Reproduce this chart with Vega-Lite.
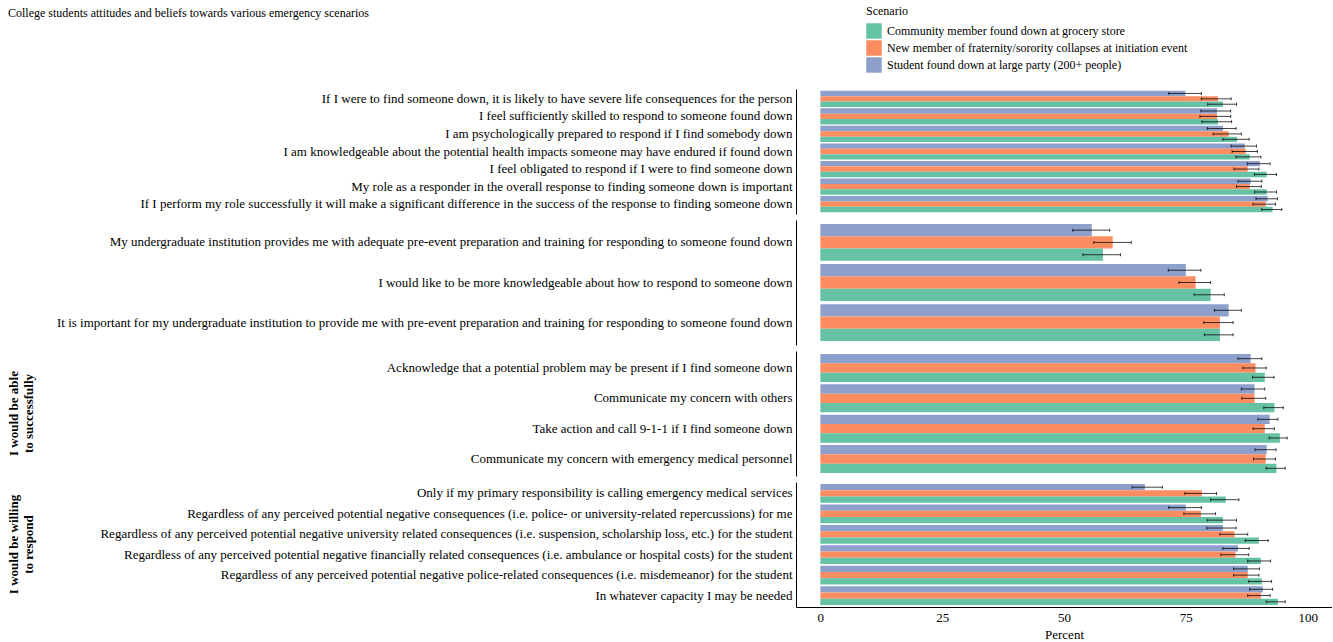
{
  "$schema": "https://vega.github.io/schema/vega-lite/v6.json",
  "padding": {"left": 8, "top": 6, "right": 0, "bottom": 5},
  "background": "white",
  "title": {"text": "College students attitudes and beliefs towards various emergency scenarios", "anchor": "start", "frame": "bounds", "font": "Liberation Serif", "fontSize": 12, "fontWeight": "normal", "color": "black", "offset": -14},
  "data": {"values": [
    {"Group": "1", "Item": "If I were to find someone down, it is likely to have severe life consequences for the person", "Scenario": "Student found down at large party (200+ people)", "Percent": 74.9, "Lo": 71.5, "Hi": 78.2},
    {"Group": "1", "Item": "If I were to find someone down, it is likely to have severe life consequences for the person", "Scenario": "New member of fraternity/sorority collapses at initiation event", "Percent": 81.6, "Lo": 78.2, "Hi": 84.3},
    {"Group": "1", "Item": "If I were to find someone down, it is likely to have severe life consequences for the person", "Scenario": "Community member found down at grocery store", "Percent": 82.6, "Lo": 79.5, "Hi": 85.4},
    {"Group": "1", "Item": "I feel sufficiently skilled to respond to someone found down", "Scenario": "Student found down at large party (200+ people)", "Percent": 81.4, "Lo": 78.1, "Hi": 84.2},
    {"Group": "1", "Item": "I feel sufficiently skilled to respond to someone found down", "Scenario": "New member of fraternity/sorority collapses at initiation event", "Percent": 81.4, "Lo": 77.9, "Hi": 84.2},
    {"Group": "1", "Item": "I feel sufficiently skilled to respond to someone found down", "Scenario": "Community member found down at grocery store", "Percent": 81.6, "Lo": 78.3, "Hi": 84.4},
    {"Group": "1", "Item": "I am psychologically prepared to respond if I find somebody down", "Scenario": "Student found down at large party (200+ people)", "Percent": 82.6, "Lo": 79.4, "Hi": 85.3},
    {"Group": "1", "Item": "I am psychologically prepared to respond if I find somebody down", "Scenario": "New member of fraternity/sorority collapses at initiation event", "Percent": 83.8, "Lo": 80.6, "Hi": 86.4},
    {"Group": "1", "Item": "I am psychologically prepared to respond if I find somebody down", "Scenario": "Community member found down at grocery store", "Percent": 85.5, "Lo": 82.6, "Hi": 88.0},
    {"Group": "1", "Item": "I am knowledgeable about the potential health impacts someone may have endured if found down", "Scenario": "Student found down at large party (200+ people)", "Percent": 87.1, "Lo": 84.3, "Hi": 89.5},
    {"Group": "1", "Item": "I am knowledgeable about the potential health impacts someone may have endured if found down", "Scenario": "New member of fraternity/sorority collapses at initiation event", "Percent": 87.3, "Lo": 84.5, "Hi": 89.7},
    {"Group": "1", "Item": "I am knowledgeable about the potential health impacts someone may have endured if found down", "Scenario": "Community member found down at grocery store", "Percent": 88.1, "Lo": 85.3, "Hi": 90.4},
    {"Group": "1", "Item": "I feel obligated to respond if I were to find someone down", "Scenario": "Student found down at large party (200+ people)", "Percent": 90.2, "Lo": 87.6, "Hi": 92.3},
    {"Group": "1", "Item": "I feel obligated to respond if I were to find someone down", "Scenario": "New member of fraternity/sorority collapses at initiation event", "Percent": 87.7, "Lo": 84.9, "Hi": 90.0},
    {"Group": "1", "Item": "I feel obligated to respond if I were to find someone down", "Scenario": "Community member found down at grocery store", "Percent": 91.6, "Lo": 89.1, "Hi": 93.6},
    {"Group": "1", "Item": "My role as a responder in the overall response to finding someone down is important", "Scenario": "Student found down at large party (200+ people)", "Percent": 88.3, "Lo": 85.7, "Hi": 90.6},
    {"Group": "1", "Item": "My role as a responder in the overall response to finding someone down is important", "Scenario": "New member of fraternity/sorority collapses at initiation event", "Percent": 88.1, "Lo": 85.4, "Hi": 90.5},
    {"Group": "1", "Item": "My role as a responder in the overall response to finding someone down is important", "Scenario": "Community member found down at grocery store", "Percent": 91.6, "Lo": 89.1, "Hi": 93.6},
    {"Group": "1", "Item": "If I perform my role successfully it will make a significant difference in the success of the response to finding someone down", "Scenario": "Student found down at large party (200+ people)", "Percent": 91.8, "Lo": 89.4, "Hi": 93.8},
    {"Group": "1", "Item": "If I perform my role successfully it will make a significant difference in the success of the response to finding someone down", "Scenario": "New member of fraternity/sorority collapses at initiation event", "Percent": 91.4, "Lo": 88.8, "Hi": 93.4},
    {"Group": "1", "Item": "If I perform my role successfully it will make a significant difference in the success of the response to finding someone down", "Scenario": "Community member found down at grocery store", "Percent": 92.8, "Lo": 90.6, "Hi": 94.7},
    {"Group": "2", "Item": "My undergraduate institution provides me with adequate pre-event preparation and training for responding to someone found down", "Scenario": "Student found down at large party (200+ people)", "Percent": 55.7, "Lo": 51.8, "Hi": 59.4},
    {"Group": "2", "Item": "My undergraduate institution provides me with adequate pre-event preparation and training for responding to someone found down", "Scenario": "New member of fraternity/sorority collapses at initiation event", "Percent": 60.0, "Lo": 56.1, "Hi": 63.8},
    {"Group": "2", "Item": "My undergraduate institution provides me with adequate pre-event preparation and training for responding to someone found down", "Scenario": "Community member found down at grocery store", "Percent": 58.0, "Lo": 53.9, "Hi": 61.6},
    {"Group": "2", "Item": "I would like to be more knowledgeable about how to respond to someone down", "Scenario": "Student found down at large party (200+ people)", "Percent": 75.0, "Lo": 71.4, "Hi": 78.1},
    {"Group": "2", "Item": "I would like to be more knowledgeable about how to respond to someone down", "Scenario": "New member of fraternity/sorority collapses at initiation event", "Percent": 77.0, "Lo": 73.6, "Hi": 80.1},
    {"Group": "2", "Item": "I would like to be more knowledgeable about how to respond to someone down", "Scenario": "Community member found down at grocery store", "Percent": 80.1, "Lo": 76.7, "Hi": 82.9},
    {"Group": "2", "Item": "It is important for my undergraduate institution to provide me with pre-event preparation and training for responding to someone found down", "Scenario": "Student found down at large party (200+ people)", "Percent": 83.8, "Lo": 80.9, "Hi": 86.4},
    {"Group": "2", "Item": "It is important for my undergraduate institution to provide me with pre-event preparation and training for responding to someone found down", "Scenario": "New member of fraternity/sorority collapses at initiation event", "Percent": 82.0, "Lo": 78.7, "Hi": 84.7},
    {"Group": "2", "Item": "It is important for my undergraduate institution to provide me with pre-event preparation and training for responding to someone found down", "Scenario": "Community member found down at grocery store", "Percent": 82.0, "Lo": 78.8, "Hi": 84.7},
    {"Group": "I would be able to successfully", "Item": "Acknowledge that a potential problem may be present if I find someone down", "Scenario": "Student found down at large party (200+ people)", "Percent": 88.3, "Lo": 85.7, "Hi": 90.6},
    {"Group": "I would be able to successfully", "Item": "Acknowledge that a potential problem may be present if I find someone down", "Scenario": "New member of fraternity/sorority collapses at initiation event", "Percent": 89.3, "Lo": 86.7, "Hi": 91.5},
    {"Group": "I would be able to successfully", "Item": "Acknowledge that a potential problem may be present if I find someone down", "Scenario": "Community member found down at grocery store", "Percent": 91.2, "Lo": 88.7, "Hi": 93.1},
    {"Group": "I would be able to successfully", "Item": "Communicate my concern with others", "Scenario": "Student found down at large party (200+ people)", "Percent": 89.1, "Lo": 86.4, "Hi": 91.2},
    {"Group": "I would be able to successfully", "Item": "Communicate my concern with others", "Scenario": "New member of fraternity/sorority collapses at initiation event", "Percent": 89.1, "Lo": 86.5, "Hi": 91.4},
    {"Group": "I would be able to successfully", "Item": "Communicate my concern with others", "Scenario": "Community member found down at grocery store", "Percent": 93.2, "Lo": 91.0, "Hi": 95.0},
    {"Group": "I would be able to successfully", "Item": "Take action and call 9-1-1 if I find someone down", "Scenario": "Student found down at large party (200+ people)", "Percent": 92.2, "Lo": 89.8, "Hi": 93.9},
    {"Group": "I would be able to successfully", "Item": "Take action and call 9-1-1 if I find someone down", "Scenario": "New member of fraternity/sorority collapses at initiation event", "Percent": 91.2, "Lo": 88.8, "Hi": 93.2},
    {"Group": "I would be able to successfully", "Item": "Take action and call 9-1-1 if I find someone down", "Scenario": "Community member found down at grocery store", "Percent": 94.3, "Lo": 92.1, "Hi": 95.8},
    {"Group": "I would be able to successfully", "Item": "Communicate my concern with emergency medical personnel", "Scenario": "Student found down at large party (200+ people)", "Percent": 91.6, "Lo": 89.2, "Hi": 93.5},
    {"Group": "I would be able to successfully", "Item": "Communicate my concern with emergency medical personnel", "Scenario": "New member of fraternity/sorority collapses at initiation event", "Percent": 91.4, "Lo": 88.9, "Hi": 93.4},
    {"Group": "I would be able to successfully", "Item": "Communicate my concern with emergency medical personnel", "Scenario": "Community member found down at grocery store", "Percent": 93.6, "Lo": 91.5, "Hi": 95.4},
    {"Group": "I would be willing to respond", "Item": "Only if my primary responsibility is calling emergency medical services", "Scenario": "Student found down at large party (200+ people)", "Percent": 66.6, "Lo": 64.0, "Hi": 70.2},
    {"Group": "I would be willing to respond", "Item": "Only if my primary responsibility is calling emergency medical services", "Scenario": "New member of fraternity/sorority collapses at initiation event", "Percent": 78.3, "Lo": 74.8, "Hi": 81.3},
    {"Group": "I would be willing to respond", "Item": "Only if my primary responsibility is calling emergency medical services", "Scenario": "Community member found down at grocery store", "Percent": 83.2, "Lo": 80.1, "Hi": 85.9},
    {"Group": "I would be willing to respond", "Item": "Regardless of any perceived potential negative consequences (i.e. police- or university-related repercussions) for me", "Scenario": "Student found down at large party (200+ people)", "Percent": 75.0, "Lo": 71.5, "Hi": 78.2},
    {"Group": "I would be willing to respond", "Item": "Regardless of any perceived potential negative consequences (i.e. police- or university-related repercussions) for me", "Scenario": "New member of fraternity/sorority collapses at initiation event", "Percent": 78.1, "Lo": 74.6, "Hi": 81.1},
    {"Group": "I would be willing to respond", "Item": "Regardless of any perceived potential negative consequences (i.e. police- or university-related repercussions) for me", "Scenario": "Community member found down at grocery store", "Percent": 82.6, "Lo": 79.4, "Hi": 85.4},
    {"Group": "I would be willing to respond", "Item": "Regardless of any perceived potential negative university related consequences (i.e. suspension, scholarship loss, etc.) for the student", "Scenario": "Student found down at large party (200+ people)", "Percent": 82.6, "Lo": 79.3, "Hi": 85.3},
    {"Group": "I would be willing to respond", "Item": "Regardless of any perceived potential negative university related consequences (i.e. suspension, scholarship loss, etc.) for the student", "Scenario": "New member of fraternity/sorority collapses at initiation event", "Percent": 85.0, "Lo": 82.0, "Hi": 87.7},
    {"Group": "I would be willing to respond", "Item": "Regardless of any perceived potential negative university related consequences (i.e. suspension, scholarship loss, etc.) for the student", "Scenario": "Community member found down at grocery store", "Percent": 90.0, "Lo": 87.2, "Hi": 91.9},
    {"Group": "I would be willing to respond", "Item": "Regardless of any perceived potential negative financially related consequences (i.e. ambulance or hospital costs) for the student", "Scenario": "Student found down at large party (200+ people)", "Percent": 85.7, "Lo": 82.6, "Hi": 88.0},
    {"Group": "I would be willing to respond", "Item": "Regardless of any perceived potential negative financially related consequences (i.e. ambulance or hospital costs) for the student", "Scenario": "New member of fraternity/sorority collapses at initiation event", "Percent": 85.2, "Lo": 82.2, "Hi": 87.9},
    {"Group": "I would be willing to respond", "Item": "Regardless of any perceived potential negative financially related consequences (i.e. ambulance or hospital costs) for the student", "Scenario": "Community member found down at grocery store", "Percent": 90.4, "Lo": 87.7, "Hi": 92.4},
    {"Group": "I would be willing to respond", "Item": "Regardless of any perceived potential negative police-related consequences (i.e. misdemeanor) for the student", "Scenario": "Student found down at large party (200+ people)", "Percent": 87.7, "Lo": 84.8, "Hi": 90.1},
    {"Group": "I would be willing to respond", "Item": "Regardless of any perceived potential negative police-related consequences (i.e. misdemeanor) for the student", "Scenario": "New member of fraternity/sorority collapses at initiation event", "Percent": 87.7, "Lo": 84.8, "Hi": 90.0},
    {"Group": "I would be willing to respond", "Item": "Regardless of any perceived potential negative police-related consequences (i.e. misdemeanor) for the student", "Scenario": "Community member found down at grocery store", "Percent": 90.6, "Lo": 87.9, "Hi": 92.6},
    {"Group": "I would be willing to respond", "Item": "In whatever capacity I may be needed", "Scenario": "Student found down at large party (200+ people)", "Percent": 90.8, "Lo": 88.1, "Hi": 92.8},
    {"Group": "I would be willing to respond", "Item": "In whatever capacity I may be needed", "Scenario": "New member of fraternity/sorority collapses at initiation event", "Percent": 90.4, "Lo": 87.7, "Hi": 92.3},
    {"Group": "I would be willing to respond", "Item": "In whatever capacity I may be needed", "Scenario": "Community member found down at grocery store", "Percent": 93.9, "Lo": 91.5, "Hi": 95.4}
  ]},
  "facet": {
    "row": {
      "field": "Group", "type": "nominal", "title": null,
      "sort": ["1", "2", "I would be able to successfully", "I would be willing to respond"],
      "header": {
        "labelOrient": "left", "labelAngle": -90, "labelFont": "Liberation Serif", "labelFontSize": 13,
        "labelFontWeight": "bold", "labelColor": "black", "labelPadding": 14, "labelLineHeight": 15,
        "labelExpr": "datum.value == 'I would be able to successfully' ? ['I would be able', 'to successfully'] : (datum.value == 'I would be willing to respond' ? ['I would be willing', 'to respond'] : '')"
      }
    }
  },
  "spacing": 6,
  "resolve": {"scale": {"y": "independent", "yOffset": "independent"}},
  "spec": {
    "width": 536,
    "height": 125,
    "encoding": {
      "y": {"field": "Item", "type": "nominal", "sort": null, "title": null,
        "scale": {"paddingInner": 0.08, "paddingOuter": 0.1},
        "axis": {"ticks": false, "domainColor": "black", "domainWidth": 1, "labelFont": "Liberation Serif", "labelFontSize": 13, "labelColor": "black", "labelLimit": 1000, "labelPadding": 4}},
      "yOffset": {"field": "Scenario", "sort": "descending", "scale": {"paddingInner": 0, "paddingOuter": 0}}
    },
    "layer": [
      {
        "mark": {"type": "bar", "opacity": 1},
        "encoding": {
          "x": {"field": "Percent", "type": "quantitative", "scale": {"domain": [-5, 105], "nice": false, "zero": false},
            "axis": {"values": [0, 25, 50, 75, 100], "grid": false, "ticks": false, "domainColor": "black", "domainWidth": 1, "labelFont": "Liberation Serif", "labelFontSize": 13, "labelColor": "black", "labelPadding": 4, "title": "Percent", "titleFont": "Liberation Serif", "titleFontSize": 13, "titleFontWeight": "normal", "titleColor": "black", "titlePadding": 4}},
          "color": {"field": "Scenario", "type": "nominal",
            "scale": {"domain": ["Community member found down at grocery store", "New member of fraternity/sorority collapses at initiation event", "Student found down at large party (200+ people)"], "range": ["#66C2A5", "#FC8D62", "#8DA0CB"]},
            "legend": {"orient": "none", "legendX": 70, "legendY": -83, "title": "Scenario", "titleFont": "Liberation Serif", "titleFontSize": 12, "titleFontWeight": "normal", "titleColor": "black", "titlePadding": 5, "labelFont": "Liberation Serif", "labelFontSize": 12, "labelColor": "black", "symbolType": "square", "symbolSize": 240, "symbolStrokeWidth": 0, "symbolOpacity": 1, "rowPadding": 1, "labelOffset": 5, "labelLimit": 1000}}
        }
      },
      {
        "mark": {"type": "rule", "color": "black", "opacity": 0.75, "strokeWidth": 1},
        "encoding": {"x": {"field": "Lo", "type": "quantitative"}, "x2": {"field": "Hi"}}
      },
      {
        "mark": {"type": "tick", "color": "black", "opacity": 0.75, "thickness": 1, "size": 3},
        "encoding": {"x": {"field": "Lo", "type": "quantitative"}}
      },
      {
        "mark": {"type": "tick", "color": "black", "opacity": 0.75, "thickness": 1, "size": 3},
        "encoding": {"x": {"field": "Hi", "type": "quantitative"}}
      }
    ]
  },
  "config": {"view": {"stroke": null}, "axis": {"grid": false}}
}
